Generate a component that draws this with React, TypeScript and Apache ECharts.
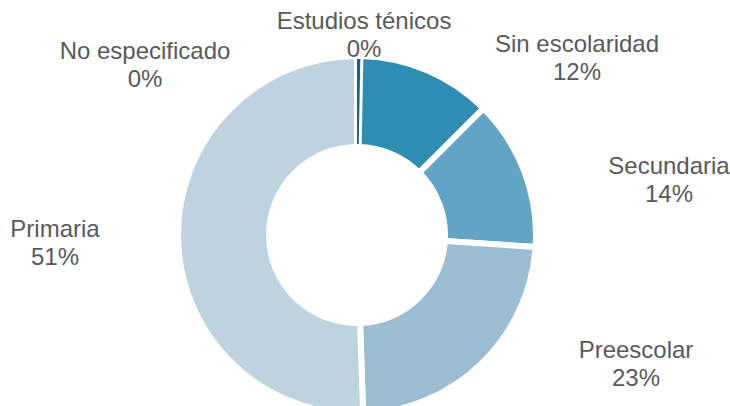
import React, { useEffect, useRef } from "react";
import * as echarts from "echarts";

const categories = ["Estudios ténicos", "Sin escolaridad", "Secundaria", "Preescolar", "Primaria", "No especificado"];
const values = [0.3, 12.2, 13.6, 23.4, 50.6, 0];
const colors = ["#1e5f86", "#2e8db3", "#63a4c4", "#9bbcd1", "#bdd4e0", "#a5a5a5"];

// label anchor points (chart pixel coordinates), one per category
const labelAnchors: [number, number][] = [
  [364, 34],
  [577, 57],
  [669, 179],
  [636, 363],
  [55, 242],
  [145, 64],
];

export default function App() {
  const ref = useRef<HTMLDivElement>(null);
  useEffect(() => {
    if (!ref.current) return;
    const chart = echarts.init(ref.current, null, { renderer: "svg" });
    const data = categories.map((name, i) => ({
      name,
      value: values[i],
      itemStyle: { color: colors[i] },
    }));
    const overlayData = categories.map((name, i) => ({
      name,
      value: values[i],
      itemStyle: { color: i === 0 ? colors[0] : "rgba(0,0,0,0)" },
    }));
    chart.setOption({
      animation: false,
      backgroundColor: "#ffffff",
      series: [
        {
          type: "pie",
          center: [357, 235],
          radius: [88, 179],
          startAngle: 90,
          clockwise: true,
          data,
          itemStyle: { borderColor: "#ffffff", borderWidth: 6 },
          emphasis: { disabled: true },
          label: {
            show: true,
            position: "outside",
            formatter: "{b}\n{d}%",
            fontFamily: "Liberation Sans, Arial, sans-serif",
            fontSize: 24,
            lineHeight: 28,
            color: "#595959",
            overflow: "none",
            width: 300,
          },
          labelLine: { show: false },
          percentPrecision: 0,
          labelLayout: (p: any) => {
            const a = labelAnchors[p.dataIndex];
            return { x: a[0], y: a[1], align: "center", verticalAlign: "middle" };
          },
        },
        {
          type: "pie",
          center: [357, 235],
          radius: [91, 176],
          startAngle: 90,
          clockwise: true,
          silent: true,
          data: overlayData,
          itemStyle: { borderWidth: 0 },
          label: { show: false },
          labelLine: { show: false },
          emphasis: { disabled: true },
        },
      ],
    });
    return () => chart.dispose();
  }, []);
  return <div ref={ref} style={{ position: "fixed", left: 0, top: 0, width: 730, height: 406 }} />;
}
